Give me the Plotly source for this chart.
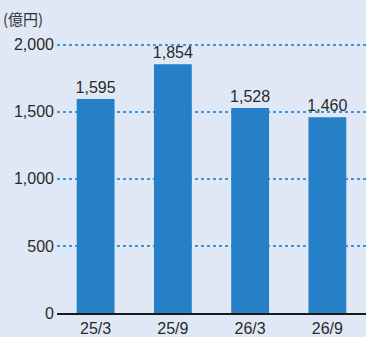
import plotly.graph_objects as go

categories = ["25/3", "25/9", "26/3", "26/9"]
values = [1595, 1854, 1528, 1460]
value_labels = ["1,595", "1,854", "1,528", "1,460"]
y_ticks = [0, 500, 1000, 1500, 2000]
y_tick_labels = ["0", "500", "1,000", "1,500", "2,000"]

bg = "#E1E8F5"
num_font = "Liberation Sans, Arial, Helvetica, sans-serif"
cjk_font = "Noto Sans CJK JP, sans-serif"
txt = "#2a2a2a"

fig = go.Figure(go.Bar(
    x=categories, y=values, text=value_labels, textposition="outside",
    constraintext="none",
    textfont=dict(size=16, color=txt, family=num_font),
    marker=dict(color="#2680C8", line=dict(width=0)),
    width=0.49, cliponaxis=False,
))

fig.update_layout(
    width=366, height=337,
    margin=dict(l=57, r=0, t=42, b=18),
    paper_bgcolor=bg, plot_bgcolor=bg,
    showlegend=False,
    font=dict(family=num_font, size=16, color=txt),
    xaxis=dict(
        range=[-0.5, 3.5], showline=True, linecolor="#1a1a1a", linewidth=2,
        showgrid=False, ticks="", tickfont=dict(size=16, color=txt),
        ticklabelstandoff=0,
    ),
    yaxis=dict(
        range=[0, 2020], tickvals=y_ticks, ticktext=y_tick_labels,
        showgrid=True, gridcolor="#4096DB", griddash="dot", gridwidth=1.5,
        zeroline=False, ticks="", tickfont=dict(size=16, color=txt),
        ticklabelstandoff=2,
    ),
    annotations=[dict(
        text="(億円)", x=0, y=1, xref="paper", yref="paper",
        xshift=-56, yshift=36, xanchor="left", yanchor="top",
        showarrow=False, font=dict(size=15, color="#333333", family=cjk_font),
    )],
)

fig.write_html("out.html")
